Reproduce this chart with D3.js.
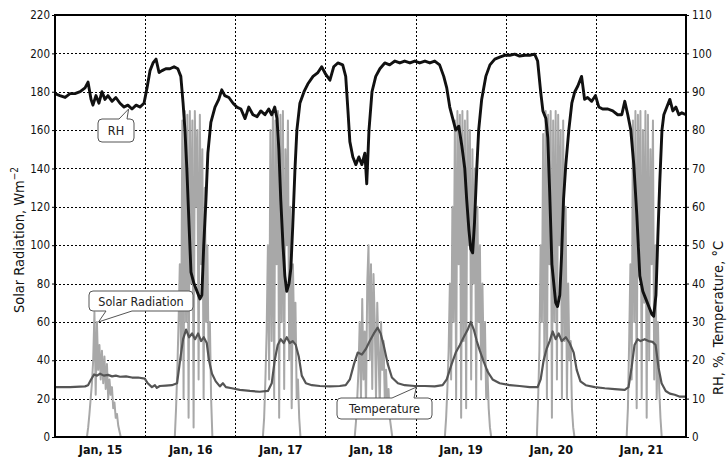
<!DOCTYPE html>
<html><head><meta charset="utf-8">
<script src="https://cdn.jsdelivr.net/npm/d3@7"></script>
<style>
body{margin:0;background:#fff}
svg{display:block}
text{font-family:"DejaVu Sans Condensed","DejaVu Sans",sans-serif}
</style>
</head><body>
<svg id="c" width="728" height="457"></svg>
<script>
// ---------- data ----------
const dayLabels = ["Jan, 15","Jan, 16","Jan, 17","Jan, 18","Jan, 19","Jan, 20","Jan, 21"];
const leftTicks = [0,20,40,60,80,100,120,140,160,180,200,220];
const rightTicks = [0,10,20,30,40,50,60,70,80,90,100,110];

// hours since Jan 15 00:00
const rhHours = [0,1.3,2.7,4,5.3,6.7,8,8.8,9.6,10.1,10.9,11.7,12.5,13.3,14.1,15.2,16.2,17.3,18.4,19.4,20.5,21.6,22.6,23.7,
 24.5,25.3,26.1,26.9,27.7,28.5,29.5,30.6,31.7,32.7,33.5,34.1,34.6,35.1,35.7,36.2,37,37.8,38.6,39.1,39.6,40.2,40.7,41.5,42.6,43.6,44.4,45.2,46.3,47.4,
 48.4,49.5,50.6,51.6,52.7,53.8,54.8,55.9,56.9,57.7,58.5,59.1,59.6,60.1,60.7,61.2,61.7,62.3,62.8,63.3,63.9,64.4,65.2,66.3,67.3,68.7,70,71,
 72.1,73.2,74.2,75.3,76.6,77.4,78,78.5,79.3,80.1,80.9,81.7,82.5,83,83.6,84.4,85.4,86.5,87.8,89.1,90.5,91.8,93.1,94.5,95.8,
 97.1,98.5,99.8,101.1,102.4,103.5,104.3,105.1,105.9,106.7,107.5,108.3,109.1,109.6,110.2,110.7,111.2,111.7,112.3,112.8,113.6,114.7,115.8,117.1,118.4,119.7,
 121.1,122.4,123.7,125.1,126.4,127.7,128.5,129.3,129.9,130.7,131.2,131.7,132.3,132.8,133.3,133.8,134.4,134.9,135.4,136,136.8,137.6,138.4,139.2,140.2,141,141.8,142.9,143.9,
 144.8,145.8,147.2,148.5,149.8,150.9,151.7,152.5,153.3,154.1,154.9,155.7,156.5,157.3,158.1,158.9,159.4,160,160.5,161,161.6,162.1,162.9,163.7,164.5,165.3,166.1,166.9,168];
const rhValues = [89.5,89,88.5,89.5,89.5,90,91,92.5,88,86.5,89,87,90,88,89,87.5,88.5,87,86,86.5,85.5,86.5,86,87,
 91,95.5,97.5,98.5,95,95.5,96,96,96.5,96,94,87,80,70,55,43,40,38,36,37,50,62,74,82,86,88,90.5,89,88.5,87,
 86,85.5,83,86,84,83.5,85,84,85.5,84,86,83,75,62,50,42,38,40,44,55,70,80,87,90,92,94,95,96.5,
 94.5,93,96.5,97.5,97,94,85,77,73,71,73,71,74,66,80,90,94,96,97.5,97,98,97.5,98,97.5,98,
 97.5,98,97.5,98,97,94,91,86,83,80,81,76,70,62,54,49,48,56,70,80,88,94,97,98.5,99,99.5,
 99.5,99.8,99.3,99.5,99.5,99.8,98,90,85,83,78,64,45,40,35,34,37,48,62,71,80,87,90,91.5,94,88,88.5,87.5,89,
 86,85.5,85.5,85,84,84,87.5,84,80,71,58,42,38,36,34,32,31.5,37,52,66,80,84,86,88,85,86,84,84.5,84];

const tempHours = [0,4,8,8.8,9.6,10.4,11.2,12,13,14.1,15.2,16.2,17.3,18.9,20.5,22.1,23.9,24.7,25.8,26.6,27.1,27.9,29.5,31.1,32.5,33.3,34.1,34.9,35.7,36.5,37.3,38.1,38.9,39.6,40.4,41,41.8,42.8,43.9,44.7,45.5,47.1,
 49.2,51.9,54.5,56.7,57.7,58.5,59.3,60.1,60.9,61.7,62.5,63.3,64.1,64.9,65.7,66.8,68.4,70.5,73.2,75.8,77.4,78.5,79.6,80.6,81.7,82.8,83.8,84.9,85.9,86.7,87.5,88.6,89.7,91.3,93.1,95.8,98.5,
 101.1,103.2,104.3,105.6,106.7,107.8,108.8,109.9,110.7,111.5,112.3,113.1,114.2,115.2,116.5,118.4,121.1,123.7,126.4,128.5,129.3,130.1,130.9,131.7,132.5,133.3,134.1,134.9,136,137,138.1,138.9,139.9,141.3,143.7,
 146.4,149,151.7,152.7,153.5,154.3,155.1,155.9,157,158,159.1,159.9,160.7,161.5,162.6,163.7,165,166.4,168];
const tempValues = [13,13,13.2,13.5,15,16.3,16,16.5,16,16.2,15.8,16,15.7,15.8,15.5,15.5,15.2,14,13,13.5,12.8,13.3,13.4,13.5,14,20,25.5,28,26,27,25.5,27,25,26,24.5,20,16.5,14.5,13.2,14,13,12.7,
 12.3,12,11.8,12,14,20,24,25.5,24.5,26,24.5,25,24,21,16,14,13.5,13.3,13.2,13.3,13.5,15,19,22,21.5,23,25,27,28.5,27,24,19,15.5,14,13.5,13.3,13.3,
 13.2,13.5,15,19,22,24,26,28,30,28,25,22.5,19.5,17,15,14,13.5,13.3,13,13,15,20,23,25,27.5,25.5,27,25,26,24.5,22,17.5,14.5,13.5,13,
 12.7,12.5,12.3,13,18,24,25.5,25,25.5,25,24.8,24,18,14,12,11.3,11,10.5,10.5];

// solar radiation: start hour of each day's record, 20-minute samples
const solarStart = [8.5, 31.9, 55.35, 79.8, 103.8, 128.3, 152.2];
const solarStepHours = 1/3;
const solarJan15 = [0,5,12,20,28,40,65,22,60,35,48,30,45,28,42,25,38,20,30,22,26,15,18,10,12,6,3,0];
const solarJan16 = [0,15,35,60,90,40,165,20,170,60,168,10,170,80,165,5,170,120,160,30,168,90,150,20,130,60,100,40,60,20,0];
const solarJan17 = [0,10,30,55,100,30,160,50,170,20,165,90,170,10,168,60,170,25,150,100,165,40,120,15,90,50,70,20,30,10,0];
const solarJan18 = [0,8,20,35,60,20,72,30,55,15,80,100,40,90,25,85,60,20,70,45,15,60,35,50,20,35,15,25,10,5,0];
const solarJan19 = [0,10,25,45,80,30,120,60,165,20,170,90,168,10,170,50,165,15,170,100,160,30,150,80,140,20,120,60,100,30,80,40,60,20,35,15,5,0];
const solarJan20 = [0,20,45,100,60,158,40,170,20,168,90,170,10,165,60,170,30,168,100,160,20,165,50,120,20,80,40,50,15,5,0];
const solarJan21 = [0,15,50,90,30,165,60,170,15,168,100,170,20,160,70,170,10,168,40,150,90,165,30,100,20,60,25,10,0];
const solarDays = [solarJan15,solarJan16,solarJan17,solarJan18,solarJan19,solarJan20,solarJan21];

// ---------- chart ----------
const svg = d3.select("#c");
const L = 55, R = 686, T = 15, B = 437;
const t0 = new Date(2009,0,15), t1 = new Date(2009,0,22);
const hr = h => new Date(t0.getTime() + h*3600000);
const x = d3.scaleTime().domain([t0,t1]).range([L,R]);
const yL = d3.scaleLinear().domain([0,220]).range([B,T]);
const yR = d3.scaleLinear().domain([0,110]).range([B,T]);

// grid
const grid = svg.append("g").attr("stroke","#000").attr("stroke-width",1).attr("stroke-dasharray","2,2");
leftTicks.slice(1,-1).forEach(v=>{
  grid.append("line").attr("x1",L).attr("x2",R).attr("y1",Math.round(yL(v))+0.5).attr("y2",Math.round(yL(v))+0.5);
});
d3.timeDay.range(d3.timeDay.offset(t0,1), t1).forEach(d=>{
  grid.append("line").attr("x1",Math.round(x(d))+0.5).attr("x2",Math.round(x(d))+0.5).attr("y1",T).attr("y2",B);
});

// solar radiation
const lineL = d3.line().x(d=>x(d.t)).y(d=>yL(d.v));
const lineR = d3.line().x(d=>x(d.t)).y(d=>yR(d.v));
solarDays.forEach((vals,i)=>{
  const pts = vals.map((v,j)=>({t:hr(solarStart[i]+j*solarStepHours), v}));
  svg.append("path").datum(pts).attr("d",lineL).attr("fill","none")
    .attr("stroke","#a8a8a8").attr("stroke-width",2).attr("stroke-linejoin","round");
});

// temperature
const tempPts = tempHours.map((h,i)=>({t:hr(h), v:tempValues[i]}));
svg.append("path").datum(tempPts).attr("d",lineR).attr("fill","none")
  .attr("stroke","#555555").attr("stroke-width",2.2).attr("stroke-linejoin","round");

// RH
const rhPts = rhHours.map((h,i)=>({t:hr(h), v:rhValues[i]}));
svg.append("path").datum(rhPts).attr("d",lineR).attr("fill","none")
  .attr("stroke","#111111").attr("stroke-width",2.9).attr("stroke-linejoin","round");

// frame
svg.append("rect").attr("x",L).attr("y",T).attr("width",R-L).attr("height",B-T)
  .attr("fill","none").attr("stroke","#000").attr("stroke-width",2);

// axes
const axL = d3.axisLeft(yL).tickValues(leftTicks).tickSize(3).tickPadding(2);
const gL = svg.append("g").attr("transform",`translate(${L},0)`).call(axL);
const axR = d3.axisRight(yR).tickValues(rightTicks).tickSize(3).tickPadding(3);
const gR = svg.append("g").attr("transform",`translate(${R},0)`).call(axR);
const noons = dayLabels.map((_,i)=>hr(i*24+12));
const axB = d3.axisBottom(x).tickValues(noons).tickSize(0).tickPadding(8).tickFormat((d,i)=>dayLabels[i]);
const gB = svg.append("g").attr("transform",`translate(0,${B})`).call(axB);
[gL,gR,gB].forEach(g=>{
  g.select(".domain").remove();
  g.selectAll("text").attr("font-family",'"DejaVu Sans Condensed","DejaVu Sans",sans-serif').attr("fill","#111");
});
gL.selectAll("text").attr("font-size",11.5);
gR.selectAll("text").attr("font-size",11.5);
gB.selectAll("text").attr("font-size",12.5).attr("font-weight",600);

// axis titles
const tL = svg.append("text").attr("transform","translate(24,240) rotate(-90)")
  .attr("text-anchor","middle").attr("font-size",14.5).attr("fill","#111");
tL.append("tspan").text("Solar Radiation, Wm");
tL.append("tspan").attr("dy",-6).attr("font-size",10).text("\u22122");
svg.append("text").attr("transform","translate(723,318) rotate(-90)")
  .attr("text-anchor","middle").attr("font-size",14.5).attr("fill","#111")
  .text("RH, %, Temperature, \u00b0C");

// callouts
function bubble(x0,y0,x1,y1,b1,b2,tx,ty,side,label){
  const r=4;
  let p;
  if(side==="top"){
    p=`M${x0+r},${y0}H${b1}L${tx},${ty}L${b2},${y0}H${x1-r}Q${x1},${y0} ${x1},${y0+r}V${y1-r}Q${x1},${y1} ${x1-r},${y1}H${x0+r}Q${x0},${y1} ${x0},${y1-r}V${y0+r}Q${x0},${y0} ${x0+r},${y0}Z`;
  } else {
    p=`M${x0+r},${y0}H${x1-r}Q${x1},${y0} ${x1},${y0+r}V${y1-r}Q${x1},${y1} ${x1-r},${y1}H${b2}L${tx},${ty}L${b1},${y1}H${x0+r}Q${x0},${y1} ${x0},${y1-r}V${y0+r}Q${x0},${y0} ${x0+r},${y0}Z`;
  }
  svg.append("path").attr("d",p).attr("fill","#fff").attr("stroke","#555").attr("stroke-width",1);
  svg.append("text").attr("x",(x0+x1)/2).attr("y",(y0+y1)/2+4.5).attr("text-anchor","middle")
    .attr("font-family",'"DejaVu Sans","Noto Sans",sans-serif').attr("font-size",12.5).attr("fill","#222").text(label);
}
bubble(98,119,134,142,119,127,x(hr(19.6)),yR(85.5),"top","RH");
bubble(89,291,193,311,106,132,x(hr(11.6)),yL(60),"bottom","Solar Radiation");
bubble(337,398,432,419,392,414,x(hr(96.2)),yR(13),"top","Temperature");
</script>
</body></html>
